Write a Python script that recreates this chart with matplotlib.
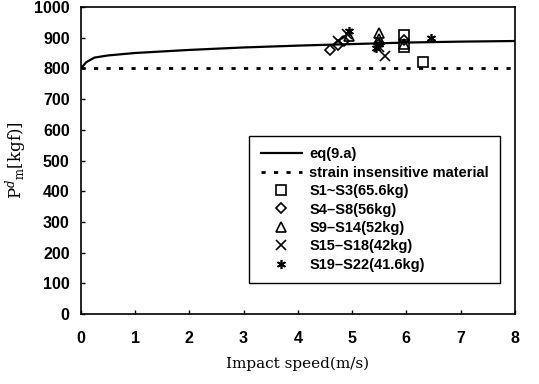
import numpy as np
import matplotlib
matplotlib.use("Agg")
import matplotlib.pyplot as plt

plt.rcParams["mathtext.fontset"] = "dejavuserif"

# eq(9.a) curve
eq_speed = [0.0, 0.1, 0.25, 0.5, 1.0, 2.0, 3.0, 4.0, 5.0, 6.0, 7.0, 8.0]
eq_load = [800, 820, 835, 842, 850, 860, 868, 874, 879, 884, 887, 889]

insensitive_speed = [0.0, 8.0]
insensitive_load = [800, 800]

s1_speed = [5.95, 5.95, 6.3]
s1_load = [910, 870, 820]
s4_speed = [4.6, 4.75, 4.85, 5.5, 5.95]
s4_load = [860, 875, 890, 880, 893]
s9_speed = [4.95, 5.5, 5.5, 5.95]
s9_load = [905, 915, 895, 880]
s15_speed = [4.75, 4.9, 5.5, 5.6]
s15_load = [890, 912, 870, 840]
s19_speed = [4.95, 5.45, 5.5, 6.45]
s19_load = [922, 865, 880, 900]

xticks = [0, 1, 2, 3, 4, 5, 6, 7, 8]
yticks = list(range(0, 1001, 100))

fig = plt.figure(figsize=(5.39, 3.84), dpi=100)
ax = fig.add_axes([0.150, 0.182, 0.805, 0.800])

ax.plot(eq_speed, eq_load, color="black", lw=1.6, label="eq(9.a)")
ax.plot(insensitive_speed, insensitive_load, color="black", lw=2.0,
        linestyle=(0, (1.5, 3)), label="strain insensitive material")

mk = dict(color="black", linestyle="none", markersize=6.5, markerfacecolor="none",
          markeredgewidth=1.2)
ax.plot(s1_speed, s1_load, marker="s", label="S1~S3(65.6kg)", **mk)
ax.plot(s4_speed, s4_load, marker="D", label="S4\u2013S8(56kg)", **{**mk, "markersize": 5.5})
ax.plot(s9_speed, s9_load, marker="^", label="S9\u2013S14(52kg)", **mk)
ax.plot(s15_speed, s15_load, marker="x", label="S15\u2013S18(42kg)", **mk)
ax.plot(s19_speed, s19_load, marker=(6, 2, 0), label="S19\u2013S22(41.6kg)", **mk)

ax.set_xlim(0, 8)
ax.set_ylim(0, 1000)
ax.set_xticks(xticks)
ax.set_yticks(yticks)
ax.tick_params(direction="in", length=3, width=1, labelsize=11.5)
ax.tick_params(axis="x", pad=12)
ax.tick_params(axis="y", pad=8)
for lbl in ax.get_xticklabels() + ax.get_yticklabels():
    lbl.set_family("Liberation Sans")
    lbl.set_fontweight("bold")
for sp in ax.spines.values():
    sp.set_linewidth(1.2)

ax.set_xlabel("Impact speed(m/s)", family="DejaVu Serif", fontsize=11, labelpad=8)
ax.set_ylabel(r"P$^{d}$$_{\mathrm{m}}$[kgf)]", family="DejaVu Serif", fontsize=12, labelpad=4)

leg = ax.legend(loc="lower right", bbox_to_anchor=(0.967, 0.10), fancybox=False,
                edgecolor="black", framealpha=1, handlelength=2.8, handletextpad=0.5,
                labelspacing=0.3, borderpad=0.8, borderaxespad=0,
                prop={"family": "Liberation Sans", "size": 10.5, "weight": "bold"})
leg.get_frame().set_linewidth(1.0)

fig.savefig("out.png", dpi=100)
